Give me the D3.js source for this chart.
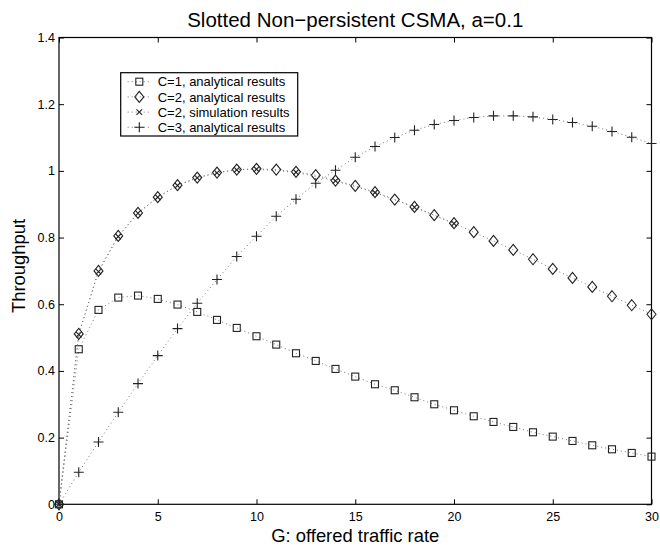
<!DOCTYPE html>
<html>
<head>
<meta charset="utf-8">
<script src="https://cdn.jsdelivr.net/npm/d3@7"></script>
<style>
  body { margin: 0; background: #fff; }
  svg { display: block; font-family: "Liberation Sans", Arial, Helvetica, sans-serif; }
</style>
</head>
<body>
<script>
// Data
const G = d3.range(0, 31);
const c1Analytical = [0, 0.465, 0.583, 0.620, 0.626, 0.616, 0.599, 0.577, 0.553, 0.529, 0.504,
  0.479, 0.453, 0.430, 0.406, 0.383, 0.360, 0.342, 0.321, 0.300, 0.282,
  0.264, 0.247, 0.232, 0.216, 0.203, 0.190, 0.177, 0.165, 0.154, 0.143];
const c2Analytical = [0, 0.511, 0.700, 0.805, 0.874, 0.921, 0.957, 0.980, 0.995, 1.004, 1.006,
  1.004, 0.997, 0.987, 0.971, 0.955, 0.936, 0.914, 0.892, 0.867, 0.843,
  0.816, 0.790, 0.763, 0.735, 0.706, 0.679, 0.652, 0.624, 0.597, 0.570];
const simG = [0, 1, 2, 3, 4, 5, 6, 7, 8, 9, 10, 12, 14, 16, 18, 20];
const c2Simulation = [0, 0.509, 0.698, 0.803, 0.873, 0.921, 0.956, 0.979, 0.994, 1.003, 1.005,
  0.996, 0.970, 0.935, 0.891, 0.842];
const c3Analytical = [0, 0.096, 0.187, 0.276, 0.362, 0.446, 0.527, 0.603, 0.674, 0.743, 0.804,
  0.864, 0.915, 0.963, 1.002, 1.041, 1.073, 1.100, 1.122, 1.139, 1.151,
  1.160, 1.165, 1.165, 1.162, 1.154, 1.145, 1.134, 1.118, 1.101, 1.082];
const xTicks = [0, 5, 10, 15, 20, 25, 30];
const yTicks = [0, 0.2, 0.4, 0.6, 0.8, 1, 1.2, 1.4];

const series = [
  { label: "C=1, analytical results", xs: G, ys: c1Analytical, marker: "square" },
  { label: "C=2, analytical results", xs: G, ys: c2Analytical, marker: "diamond" },
  { label: "C=2, simulation results", xs: simG, ys: c2Simulation, marker: "cross" },
  { label: "C=3, analytical results", xs: G, ys: c3Analytical, marker: "plus" }
];

const width = 660;
const height = 546;
const margin = { top: 37.5, right: 8.5, bottom: 41.7, left: 59 };
const innerW = width - margin.left - margin.right;
const innerH = height - margin.top - margin.bottom;

const svg = d3.select("body").append("svg")
  .attr("width", width)
  .attr("height", height);

const g = svg.append("g").attr("transform", `translate(${margin.left},${margin.top})`);

const x = d3.scaleLinear().domain([0, 30]).range([0, innerW]);
const y = d3.scaleLinear().domain([0, 1.4]).range([innerH, 0]);

// Axes with inward ticks (box style)
const tickFmt = d3.format("~g");
g.append("g")
  .attr("transform", `translate(0,${innerH})`)
  .call(d3.axisBottom(x).tickValues(xTicks).tickSizeInner(-5).tickSizeOuter(0).tickPadding(8).tickFormat(tickFmt));
g.append("g")
  .call(d3.axisTop(x).tickValues(xTicks).tickSizeInner(-5).tickSizeOuter(0).tickFormat(""));
g.append("g")
  .call(d3.axisLeft(y).tickValues(yTicks).tickSizeInner(-5).tickSizeOuter(0).tickPadding(4).tickFormat(tickFmt));
g.append("g")
  .attr("transform", `translate(${innerW},0)`)
  .call(d3.axisRight(y).tickValues(yTicks).tickSizeInner(-5).tickSizeOuter(0).tickFormat(""));

g.selectAll(".domain").remove();
g.selectAll(".tick line").attr("stroke", "#000");
g.selectAll(".tick text").attr("font-size", 12.5).attr("fill", "#000")
  .attr("font-family", "'Liberation Sans', Arial, sans-serif");

g.append("rect")
  .attr("width", innerW)
  .attr("height", innerH)
  .attr("fill", "none")
  .attr("stroke", "#000")
  .attr("stroke-width", 1.2);

// Marker shapes
function drawMarker(sel, type) {
  if (type === "square") {
    sel.append("rect").attr("x", -3.5).attr("y", -3.5).attr("width", 7).attr("height", 7)
      .attr("fill", "none").attr("stroke", "#222").attr("stroke-width", 1.1);
  } else if (type === "diamond") {
    sel.append("path").attr("d", "M0,-5.5L4.5,0L0,5.5L-4.5,0Z")
      .attr("fill", "none").attr("stroke", "#222").attr("stroke-width", 1.1);
  } else if (type === "cross") {
    sel.append("path").attr("d", "M-2.8,-2.8L2.8,2.8M-2.8,2.8L2.8,-2.8")
      .attr("fill", "none").attr("stroke", "#222").attr("stroke-width", 1.1);
  } else if (type === "plus") {
    sel.append("path").attr("d", "M-5,0L5,0M0,-5L0,5")
      .attr("fill", "none").attr("stroke", "#222").attr("stroke-width", 1.1);
  }
}

const line = d3.line().x(d => x(d[0])).y(d => y(d[1]));

series.forEach(s => {
  const pts = s.xs.map((v, i) => [v, s.ys[i]]);
  g.append("path")
    .datum(pts)
    .attr("d", line)
    .attr("fill", "none")
    .attr("stroke", "#777")
    .attr("stroke-width", 1)
    .attr("stroke-dasharray", "1,3");
  g.selectAll(null)
    .data(pts)
    .enter()
    .append("g")
    .attr("transform", d => `translate(${x(d[0])},${y(d[1])})`)
    .each(function () { drawMarker(d3.select(this), s.marker); });
});

// Legend
const legend = svg.append("g").attr("transform", "translate(120.7,72.7)");
legend.append("rect")
  .attr("width", 177)
  .attr("height", 63.3)
  .attr("fill", "#fff")
  .attr("stroke", "#000")
  .attr("stroke-width", 1.2);
series.forEach((s, i) => {
  const row = legend.append("g").attr("transform", `translate(0,${9 + i * 15.2})`);
  row.append("line")
    .attr("x1", 7).attr("x2", 30).attr("y1", 0).attr("y2", 0)
    .attr("stroke", "#777").attr("stroke-dasharray", "1,3");
  drawMarker(row.append("g").attr("transform", "translate(18.6,0)"), s.marker);
  row.append("text")
    .attr("x", 37)
    .attr("y", 4.6)
    .attr("font-size", 13)
    .text(s.label);
});

// Title and axis labels
svg.append("text")
  .attr("x", margin.left + innerW / 2)
  .attr("y", 26.5)
  .attr("text-anchor", "middle")
  .attr("font-size", 20.5)
  .text("Slotted Non\u2212persistent CSMA, a=0.1");

svg.append("text")
  .attr("x", margin.left + innerW / 2)
  .attr("y", 542)
  .attr("text-anchor", "middle")
  .attr("font-size", 18.4)
  .text("G: offered traffic rate");

svg.append("text")
  .attr("transform", `translate(25,266) rotate(-90)`)
  .attr("text-anchor", "middle")
  .attr("font-size", 18.4)
  .text("Throughput");
</script>
</body>
</html>
